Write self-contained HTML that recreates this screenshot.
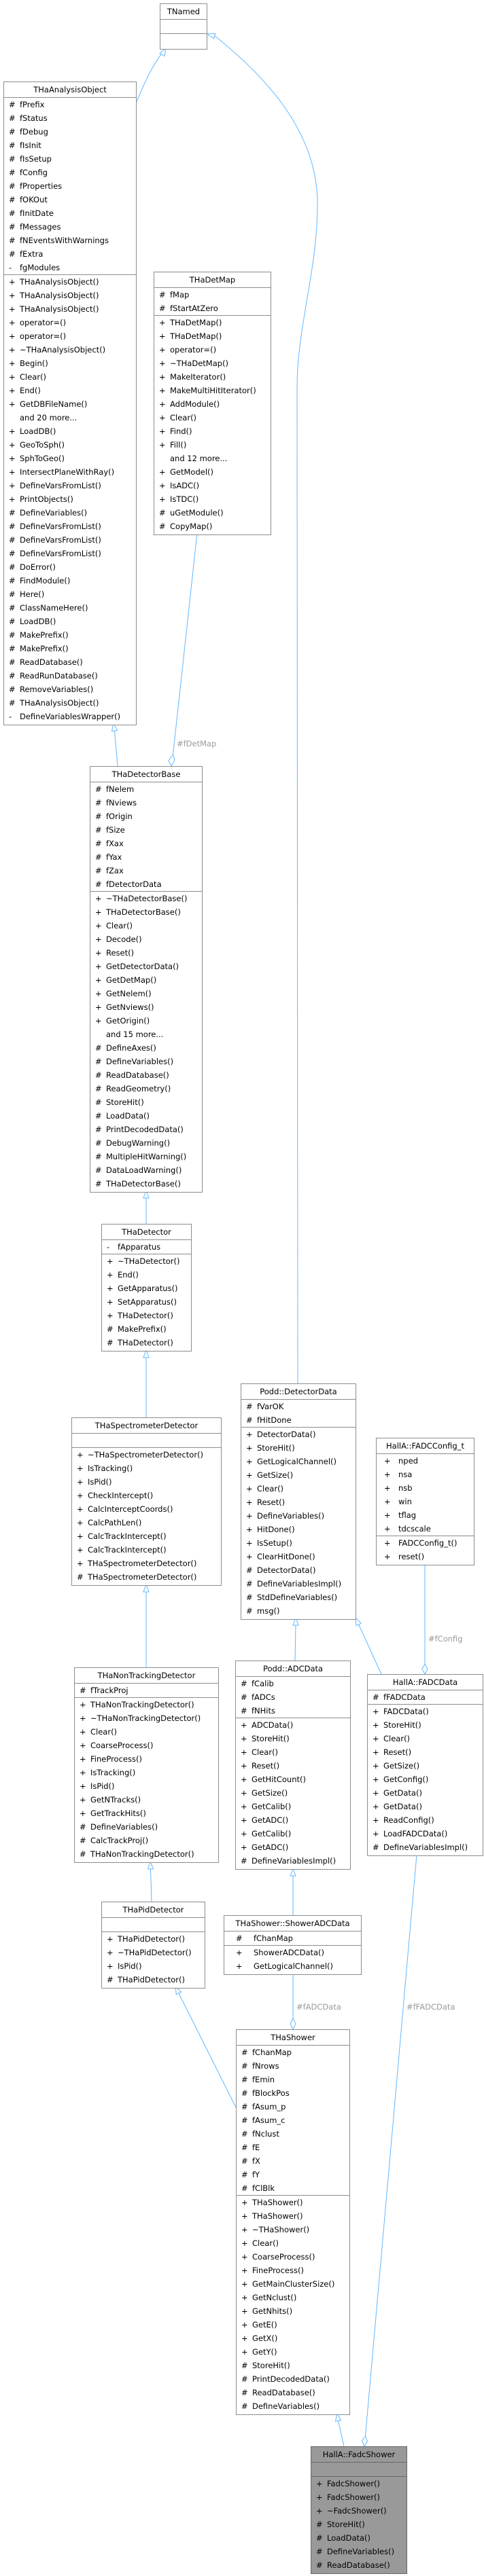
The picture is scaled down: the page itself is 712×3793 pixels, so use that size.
<!DOCTYPE html>
<html><head><meta charset="utf-8"><style>
body{margin:0;width:712px;height:3793px;position:relative;background:#fff;overflow:hidden}
.b{position:absolute;border:1px solid #8c8c8c;background:#fff;font:11.5px "DejaVu Sans","Liberation Sans",sans-serif;color:#000;box-sizing:border-box;padding-bottom:2px}
.h{height:22px;line-height:23px;text-align:center;white-space:nowrap}
.s{border-top:1px solid #8c8c8c}
.e{height:20px}
.b p{margin:0;height:20px;line-height:20px;padding-left:23px;position:relative;white-space:nowrap}
.b p i{position:absolute;left:7px;font-style:normal}
.w p{padding-left:32px}.w p i{left:11px}
.x p{padding-left:43px}.x p i{left:17px}
.g{background:#999;border-color:#666}.g .s{border-color:#666}
svg{position:absolute;left:0;top:0}
.l{position:absolute;font:11.5px "DejaVu Sans","Liberation Sans",sans-serif;color:#9a9a9a;white-space:nowrap}
</style></head><body>
<svg width="712" height="3793" fill="none" stroke="#63b8ff" stroke-width="1">
<path d="M201,150 C215,115 228,90 244,71"/><polygon fill="#fff" points="244,71 242,82.6 235,78.6"/>
<path d="M438,2037 L437,571 C437,480 467,400 467,300 C467,200 400,120 316,53"/><polygon fill="#fff" points="305,50 316.7,49.3 314.5,56.9"/>
<path d="M290,785 L254.5,1111"/><polygon fill="#fff" points="252,1128 248,1120 254.5,1111 257,1119"/>
<path d="M173,1128 L168.5,1076"/><polygon fill="#fff" points="167,1065 164.5,1076.5 172.5,1075.5"/>
<path d="M215,1802 V1764"/><polygon fill="#fff" points="215,1753 211,1764 219,1764"/>
<path d="M215,2087 V1999"/><polygon fill="#fff" points="215,1988 211,1999 219,1999"/>
<path d="M215,2455 V2344"/><polygon fill="#fff" points="215,2333 211,2344 219,2344"/>
<path d="M223,2800 L221.5,2752"/><polygon fill="#fff" points="221,2741 217.5,2752 225.5,2752"/>
<path d="M347,3103 L263,2935"/><polygon fill="#fff" points="258,2925 266.5,2933 259.3,2936.6"/>
<path d="M434,2445 L435,2393"/><polygon fill="#fff" points="435,2382 431,2393 439,2393"/>
<path d="M561,2465 L527.6,2392"/><polygon fill="#fff" points="523,2382 531.2,2390.3 524,2393.7"/>
<path d="M625,2303 V2450"/><polygon fill="#fff" points="625,2465 621,2457.5 625,2450 629,2457.5"/>
<path d="M431,2820 V2762"/><polygon fill="#fff" points="431,2751 427,2762 435,2762"/>
<path d="M431,2905 V2972"/><polygon fill="#fff" points="431,2988 427,2980 431,2972 435,2980"/>
<path d="M613,2731 L537.5,3587"/><polygon fill="#fff" points="536,3602 532.5,3594 537.5,3587 540.5,3595"/>
<path d="M506,3602 L497.5,3564"/><polygon fill="#fff" points="496,3553 493.5,3565 501.5,3564"/>
</svg>
<div class="l" style="left:260px;top:1088px">#fDetMap</div>
<div class="l" style="left:630px;top:2406px">#fConfig</div>
<div class="l" style="left:436px;top:2948px">#fADCData</div>
<div class="l" style="left:598px;top:2948px">#fFADCData</div>

<div class="b" style="left:235px;top:5px;width:70px"><div class="h">TNamed</div><div class="s e"></div><div class="s e"></div></div>

<div class="b" style="left:5px;top:120px;width:196px"><div class="h">THaAnalysisObject</div>
<div class="s"><p><i>#</i>fPrefix</p><p><i>#</i>fStatus</p><p><i>#</i>fDebug</p><p><i>#</i>fIsInit</p><p><i>#</i>fIsSetup</p><p><i>#</i>fConfig</p><p><i>#</i>fProperties</p><p><i>#</i>fOKOut</p><p><i>#</i>fInitDate</p><p><i>#</i>fMessages</p><p><i>#</i>fNEventsWithWarnings</p><p><i>#</i>fExtra</p><p><i>-</i>fgModules</p></div>
<div class="s"><p><i>+</i>THaAnalysisObject()</p><p><i>+</i>THaAnalysisObject()</p><p><i>+</i>THaAnalysisObject()</p><p><i>+</i>operator=()</p><p><i>+</i>operator=()</p><p><i>+</i>~THaAnalysisObject()</p><p><i>+</i>Begin()</p><p><i>+</i>Clear()</p><p><i>+</i>End()</p><p><i>+</i>GetDBFileName()</p><p>and 20 more...</p><p><i>+</i>LoadDB()</p><p><i>+</i>GeoToSph()</p><p><i>+</i>SphToGeo()</p><p><i>+</i>IntersectPlaneWithRay()</p><p><i>+</i>DefineVarsFromList()</p><p><i>+</i>PrintObjects()</p><p><i>#</i>DefineVariables()</p><p><i>#</i>DefineVarsFromList()</p><p><i>#</i>DefineVarsFromList()</p><p><i>#</i>DefineVarsFromList()</p><p><i>#</i>DoError()</p><p><i>#</i>FindModule()</p><p><i>#</i>Here()</p><p><i>#</i>ClassNameHere()</p><p><i>#</i>LoadDB()</p><p><i>#</i>MakePrefix()</p><p><i>#</i>MakePrefix()</p><p><i>#</i>ReadDatabase()</p><p><i>#</i>ReadRunDatabase()</p><p><i>#</i>RemoveVariables()</p><p><i>#</i>THaAnalysisObject()</p><p><i>-</i>DefineVariablesWrapper()</p></div></div>

<div class="b" style="left:226px;top:400px;width:173px"><div class="h">THaDetMap</div>
<div class="s"><p><i>#</i>fMap</p><p><i>#</i>fStartAtZero</p></div>
<div class="s"><p><i>+</i>THaDetMap()</p><p><i>+</i>THaDetMap()</p><p><i>+</i>operator=()</p><p><i>+</i>~THaDetMap()</p><p><i>+</i>MakeIterator()</p><p><i>+</i>MakeMultiHitIterator()</p><p><i>+</i>AddModule()</p><p><i>+</i>Clear()</p><p><i>+</i>Find()</p><p><i>+</i>Fill()</p><p>and 12 more...</p><p><i>+</i>GetModel()</p><p><i>+</i>IsADC()</p><p><i>+</i>IsTDC()</p><p><i>#</i>uGetModule()</p><p><i>#</i>CopyMap()</p></div></div>

<div class="b" style="left:132px;top:1128px;width:166px"><div class="h">THaDetectorBase</div>
<div class="s"><p><i>#</i>fNelem</p><p><i>#</i>fNviews</p><p><i>#</i>fOrigin</p><p><i>#</i>fSize</p><p><i>#</i>fXax</p><p><i>#</i>fYax</p><p><i>#</i>fZax</p><p><i>#</i>fDetectorData</p></div>
<div class="s"><p><i>+</i>~THaDetectorBase()</p><p><i>+</i>THaDetectorBase()</p><p><i>+</i>Clear()</p><p><i>+</i>Decode()</p><p><i>+</i>Reset()</p><p><i>+</i>GetDetectorData()</p><p><i>+</i>GetDetMap()</p><p><i>+</i>GetNelem()</p><p><i>+</i>GetNviews()</p><p><i>+</i>GetOrigin()</p><p>and 15 more...</p><p><i>#</i>DefineAxes()</p><p><i>#</i>DefineVariables()</p><p><i>#</i>ReadDatabase()</p><p><i>#</i>ReadGeometry()</p><p><i>#</i>StoreHit()</p><p><i>#</i>LoadData()</p><p><i>#</i>PrintDecodedData()</p><p><i>#</i>DebugWarning()</p><p><i>#</i>MultipleHitWarning()</p><p><i>#</i>DataLoadWarning()</p><p><i>#</i>THaDetectorBase()</p></div></div>

<div class="b" style="left:149px;top:1802px;width:133px"><div class="h">THaDetector</div>
<div class="s"><p><i>-</i>fApparatus</p></div>
<div class="s"><p><i>+</i>~THaDetector()</p><p><i>+</i>End()</p><p><i>+</i>GetApparatus()</p><p><i>+</i>SetApparatus()</p><p><i>+</i>THaDetector()</p><p><i>#</i>MakePrefix()</p><p><i>#</i>THaDetector()</p></div></div>

<div class="b" style="left:105px;top:2087px;width:221px"><div class="h">THaSpectrometerDetector</div>
<div class="s e"></div>
<div class="s"><p><i>+</i>~THaSpectrometerDetector()</p><p><i>+</i>IsTracking()</p><p><i>+</i>IsPid()</p><p><i>+</i>CheckIntercept()</p><p><i>+</i>CalcInterceptCoords()</p><p><i>+</i>CalcPathLen()</p><p><i>+</i>CalcTrackIntercept()</p><p><i>+</i>CalcTrackIntercept()</p><p><i>+</i>THaSpectrometerDetector()</p><p><i>#</i>THaSpectrometerDetector()</p></div></div>

<div class="b" style="left:354px;top:2037px;width:170px"><div class="h">Podd::DetectorData</div>
<div class="s"><p><i>#</i>fVarOK</p><p><i>#</i>fHitDone</p></div>
<div class="s"><p><i>+</i>DetectorData()</p><p><i>+</i>StoreHit()</p><p><i>+</i>GetLogicalChannel()</p><p><i>+</i>GetSize()</p><p><i>+</i>Clear()</p><p><i>+</i>Reset()</p><p><i>+</i>DefineVariables()</p><p><i>+</i>HitDone()</p><p><i>+</i>IsSetup()</p><p><i>+</i>ClearHitDone()</p><p><i>#</i>DetectorData()</p><p><i>#</i>DefineVariablesImpl()</p><p><i>#</i>StdDefineVariables()</p><p><i>#</i>msg()</p></div></div>

<div class="b w" style="left:553px;top:2117px;width:145px"><div class="h">HallA::FADCConfig_t</div>
<div class="s"><p><i>+</i>nped</p><p><i>+</i>nsa</p><p><i>+</i>nsb</p><p><i>+</i>win</p><p><i>+</i>tflag</p><p><i>+</i>tdcscale</p></div>
<div class="s"><p><i>+</i>FADCConfig_t()</p><p><i>+</i>reset()</p></div></div>

<div class="b" style="left:109px;top:2455px;width:213px"><div class="h">THaNonTrackingDetector</div>
<div class="s"><p><i>#</i>fTrackProj</p></div>
<div class="s"><p><i>+</i>THaNonTrackingDetector()</p><p><i>+</i>~THaNonTrackingDetector()</p><p><i>+</i>Clear()</p><p><i>+</i>CoarseProcess()</p><p><i>+</i>FineProcess()</p><p><i>+</i>IsTracking()</p><p><i>+</i>IsPid()</p><p><i>+</i>GetNTracks()</p><p><i>+</i>GetTrackHits()</p><p><i>#</i>DefineVariables()</p><p><i>#</i>CalcTrackProj()</p><p><i>#</i>THaNonTrackingDetector()</p></div></div>

<div class="b" style="left:346px;top:2445px;width:170px"><div class="h">Podd::ADCData</div>
<div class="s"><p><i>#</i>fCalib</p><p><i>#</i>fADCs</p><p><i>#</i>fNHits</p></div>
<div class="s"><p><i>+</i>ADCData()</p><p><i>+</i>StoreHit()</p><p><i>+</i>Clear()</p><p><i>+</i>Reset()</p><p><i>+</i>GetHitCount()</p><p><i>+</i>GetSize()</p><p><i>+</i>GetCalib()</p><p><i>+</i>GetADC()</p><p><i>+</i>GetCalib()</p><p><i>+</i>GetADC()</p><p><i>#</i>DefineVariablesImpl()</p></div></div>

<div class="b" style="left:540px;top:2465px;width:171px"><div class="h">HallA::FADCData</div>
<div class="s"><p><i>#</i>fFADCData</p></div>
<div class="s"><p><i>+</i>FADCData()</p><p><i>+</i>StoreHit()</p><p><i>+</i>Clear()</p><p><i>+</i>Reset()</p><p><i>+</i>GetSize()</p><p><i>+</i>GetConfig()</p><p><i>+</i>GetData()</p><p><i>+</i>GetData()</p><p><i>+</i>ReadConfig()</p><p><i>+</i>LoadFADCData()</p><p><i>#</i>DefineVariablesImpl()</p></div></div>

<div class="b" style="left:149px;top:2800px;width:153px"><div class="h">THaPidDetector</div>
<div class="s e"></div>
<div class="s"><p><i>+</i>THaPidDetector()</p><p><i>+</i>~THaPidDetector()</p><p><i>+</i>IsPid()</p><p><i>#</i>THaPidDetector()</p></div></div>

<div class="b x" style="left:329px;top:2820px;width:203px"><div class="h">THaShower::ShowerADCData</div>
<div class="s"><p><i>#</i>fChanMap</p></div>
<div class="s"><p><i>+</i>ShowerADCData()</p><p><i>+</i>GetLogicalChannel()</p></div></div>

<div class="b" style="left:347px;top:2988px;width:168px"><div class="h">THaShower</div>
<div class="s"><p><i>#</i>fChanMap</p><p><i>#</i>fNrows</p><p><i>#</i>fEmin</p><p><i>#</i>fBlockPos</p><p><i>#</i>fAsum_p</p><p><i>#</i>fAsum_c</p><p><i>#</i>fNclust</p><p><i>#</i>fE</p><p><i>#</i>fX</p><p><i>#</i>fY</p><p><i>#</i>fClBlk</p></div>
<div class="s"><p><i>+</i>THaShower()</p><p><i>+</i>THaShower()</p><p><i>+</i>~THaShower()</p><p><i>+</i>Clear()</p><p><i>+</i>CoarseProcess()</p><p><i>+</i>FineProcess()</p><p><i>+</i>GetMainClusterSize()</p><p><i>+</i>GetNclust()</p><p><i>+</i>GetNhits()</p><p><i>+</i>GetE()</p><p><i>+</i>GetX()</p><p><i>+</i>GetY()</p><p><i>#</i>StoreHit()</p><p><i>#</i>PrintDecodedData()</p><p><i>#</i>ReadDatabase()</p><p><i>#</i>DefineVariables()</p></div></div>

<div class="b g" style="left:457px;top:3602px;width:142px"><div class="h">HallA::FadcShower</div>
<div class="s e"></div>
<div class="s"><p><i>+</i>FadcShower()</p><p><i>+</i>FadcShower()</p><p><i>+</i>~FadcShower()</p><p><i>#</i>StoreHit()</p><p><i>#</i>LoadData()</p><p><i>#</i>DefineVariables()</p><p><i>#</i>ReadDatabase()</p></div></div>
</body></html>
